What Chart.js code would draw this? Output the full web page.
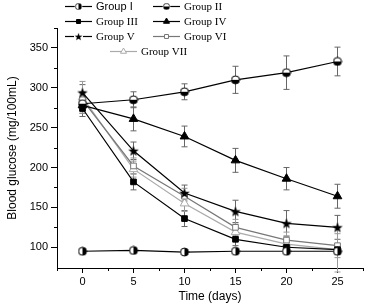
<!DOCTYPE html>
<html>
<head>
<meta charset="utf-8">
<script src="https://cdn.jsdelivr.net/npm/chart.js@4.4.1/dist/chart.umd.min.js"></script>
<style>
  html, body { margin: 0; padding: 0; background: #fff; }
  #wrap { width: 371px; height: 308px; }
</style>
</head>
<body>
<div id="wrap"><canvas id="glucoseChart" width="371" height="308"></canvas></div>
<script>
const days = [0, 5, 10, 15, 20, 25];
const groupNames = ['Group I', 'Group II', 'Group III', 'Group IV', 'Group V', 'Group VI', 'Group VII'];

const group1 = [95, 96, 94, 95, 95, 95];
const group2 = [280, 285, 295, 310, 319, 333];
const group3 = [274, 182, 136, 110, 100, 97];
const group4 = [278, 261, 239, 209, 186, 164];
const group5 = [294, 221, 168, 145, 130, 125];
const group6 = [285, 202, 164, 125, 109, 102];
const group7 = [288, 198, 155, 119, 104, 97];

const err1 = [3, 3, 3, 3, 3, 3];
const err2 = [8, 10, 10, 17, 21, 18];
const err3 = [10, 10, 10, 8, 6, 6];
const err4 = [10, 15, 13, 15, 14, 15];
const err5 = [10, 11, 10, 14, 16, 15];
const err6 = [10, 10, 10, 10, 10, 15];
const err7 = [20, 10, 10, 10, 10, 28];

const yTicks = [100, 150, 200, 250, 300, 350];
const xTicks = [0, 5, 10, 15, 20, 25];

// half filled circle markers
function halfCircle(side) {
  const c = document.createElement('canvas');
  c.width = 10; c.height = 10;
  const g = c.getContext('2d');
  const r = 4;
  g.beginPath(); g.arc(5, 5, r, 0, Math.PI * 2); g.fillStyle = '#fff'; g.fill();
  g.beginPath();
  if (side === 'right') g.arc(5, 5, r, -Math.PI / 2, Math.PI / 2);
  else g.arc(5, 5, r, 0, Math.PI);
  g.closePath(); g.fillStyle = '#000'; g.fill();
  g.beginPath(); g.arc(5, 5, r, 0, Math.PI * 2); g.lineWidth = 1; g.strokeStyle = '#000'; g.stroke();
  return c;
}

// filled five point star
function starMark() {
  const c = document.createElement('canvas');
  c.width = 12; c.height = 12;
  const g = c.getContext('2d');
  g.beginPath();
  for (let k = 0; k < 10; k++) {
    const r = k % 2 === 0 ? 5.5 : 2.3;
    const a = -Math.PI / 2 + k * Math.PI / 5;
    const px = 6 + r * Math.cos(a), py = 6.5 + r * Math.sin(a);
    if (k === 0) g.moveTo(px, py); else g.lineTo(px, py);
  }
  g.closePath(); g.fillStyle = '#000'; g.fill();
  return c;
}

const series = [
  { data: group1, err: err1, style: halfCircle('right'), color: '#000', fill: '#000', radius: 4 },
  { data: group2, err: err2, style: halfCircle('bottom'), color: '#000', fill: '#000', radius: 4 },
  { data: group3, err: err3, style: 'rect', color: '#000', fill: '#000', radius: 4 },
  { data: group4, err: err4, style: 'triangle', color: '#000', fill: '#000', radius: 5 },
  { data: group5, err: err5, style: starMark(), color: '#000', fill: '#000', radius: 5 },
  { data: group6, err: err6, style: 'rect', color: '#777', fill: '#fff', radius: 4 },
  { data: group7, err: err7, style: 'triangle', color: '#aaa', fill: '#fff', radius: 5 },
];

const errorBars = {
  id: 'errorBars',
  beforeDatasetsDraw(chart) {
    const ctx = chart.ctx, y = chart.scales.y;
    chart.data.datasets.forEach((ds, i) => {
      const meta = chart.getDatasetMeta(i);
      ctx.save();
      ctx.strokeStyle = i >= 5 ? '#999' : '#666';
      ctx.lineWidth = 1;
      meta.data.forEach((pt, j) => {
        const v = ds.data[j].y, e = ds.errors[j];
        const top = y.getPixelForValue(v + e), bot = y.getPixelForValue(v - e);
        ctx.beginPath();
        ctx.moveTo(pt.x, top); ctx.lineTo(pt.x, bot);
        ctx.moveTo(pt.x - 3, top); ctx.lineTo(pt.x + 3, top);
        ctx.moveTo(pt.x - 3, bot); ctx.lineTo(pt.x + 3, bot);
        ctx.stroke();
      });
      ctx.restore();
    });
  }
};

const minorTicks = {
  id: 'minorTicks',
  afterDraw(chart) {
    const ctx = chart.ctx, x = chart.scales.x, y = chart.scales.y, a = chart.chartArea;
    ctx.save();
    ctx.strokeStyle = '#000';
    ctx.lineWidth = 1;
    ctx.beginPath();
    for (let v = 125; v <= 375; v += 50) {
      const p = Math.round(y.getPixelForValue(v)) + 0.5;
      ctx.moveTo(a.left, p); ctx.lineTo(a.left - 3, p);
    }
    for (let v = -2.5; v <= 27.5; v += 5) {
      const p = Math.round(x.getPixelForValue(v)) + 0.5;
      ctx.moveTo(p, a.bottom); ctx.lineTo(p, a.bottom + 3);
    }
    ctx.stroke();
    ctx.restore();
  }
};

const legendBox = {
  id: 'legendBox',
  afterDraw(chart) {
    const ctx = chart.ctx;
    const spots = [[65, 6], [153, 6], [65, 21], [153, 21], [65, 36], [153, 36], [110, 51]];
    chart.data.datasets.forEach((ds, i) => {
      const [lx, ly] = spots[i];
      const cx = lx + 13.5, cy = ly + 0.5;
      ctx.save();
      ctx.strokeStyle = ds.borderColor;
      ctx.lineWidth = 1.2;
      ctx.beginPath(); ctx.moveTo(lx, cy); ctx.lineTo(lx + 27, cy); ctx.stroke();
      ctx.fillStyle = ds.pointBackgroundColor;
      ctx.strokeStyle = ds.pointBorderColor;
      ctx.lineWidth = 1;
      if (typeof ds.pointStyle === 'string') {
        Chart.helpers.drawPoint(ctx, {
          pointStyle: ds.pointStyle, radius: ds.pointRadius * 0.7, rotation: 0, borderWidth: 1
        }, cx, cy);
      } else {
        const w = ds.pointStyle.width * 0.75, h = ds.pointStyle.height * 0.75;
        ctx.fillStyle = '#fff';
        ctx.fillRect(cx - w / 2, cy - h / 2, w, h);
        ctx.drawImage(ds.pointStyle, cx - w / 2, cy - h / 2, w, h);
      }
      ctx.restore();
      ctx.save();
      ctx.fillStyle = '#000';
      ctx.textBaseline = 'middle';
      ctx.font = i === 0 ? '11px "Liberation Sans", Arial, sans-serif' : '11px "Liberation Serif", "Times New Roman", serif';
      ctx.fillText(ds.label, lx + 31, ly + 1);
      ctx.restore();
    });
  }
};

const datasets = series.map((s, i) => ({
  label: groupNames[i],
  data: days.map((d, j) => ({ x: d, y: s.data[j] })),
  errors: s.err,
  borderColor: s.color,
  borderWidth: 1.2,
  pointStyle: s.style,
  pointRadius: s.radius,
  pointBorderColor: s.color,
  pointBackgroundColor: s.fill,
  pointBorderWidth: 1,
  tension: 0,
}));

Chart.defaults.font.family = '"Liberation Sans", Arial, sans-serif';
Chart.defaults.color = '#000';

new Chart(document.getElementById('glucoseChart').getContext('2d'), {
  type: 'line',
  data: { datasets },
  plugins: [errorBars, minorTicks, legendBox],
  options: {
    responsive: false,
    animation: false,
    layout: { padding: { top: 28, right: 8, left: 0, bottom: 0 } },
    plugins: { legend: { display: false }, tooltip: { enabled: false } },
    scales: {
      x: {
        type: 'linear',
        min: -2.5,
        max: 27.5,
        afterBuildTicks: (axis) => { axis.ticks = xTicks.map(v => ({ value: v })); },
        afterFit: (axis) => { axis.height = 40; },
        grid: { drawOnChartArea: false, drawTicks: true, tickLength: 5, color: '#000' },
        border: { color: '#000', width: 1 },
        ticks: { font: { size: 11 }, padding: 2, maxRotation: 0 },
        title: { display: true, text: 'Time (days)', font: { size: 12 }, padding: { top: 2 } },
      },
      y: {
        min: 74,
        max: 375,
        afterBuildTicks: (axis) => { axis.ticks = yTicks.map(v => ({ value: v })); },
        afterFit: (axis) => { axis.width = 57; },
        grid: { drawOnChartArea: false, drawTicks: true, tickLength: 6, color: '#000' },
        border: { color: '#000', width: 1 },
        ticks: { font: { size: 11 }, padding: 3 },
        title: { display: true, text: 'Blood glucose (mg/100mL)', font: { size: 12 }, padding: { top: 5, bottom: 0 } },
      },
    },
  },
});
</script>
</body>
</html>
